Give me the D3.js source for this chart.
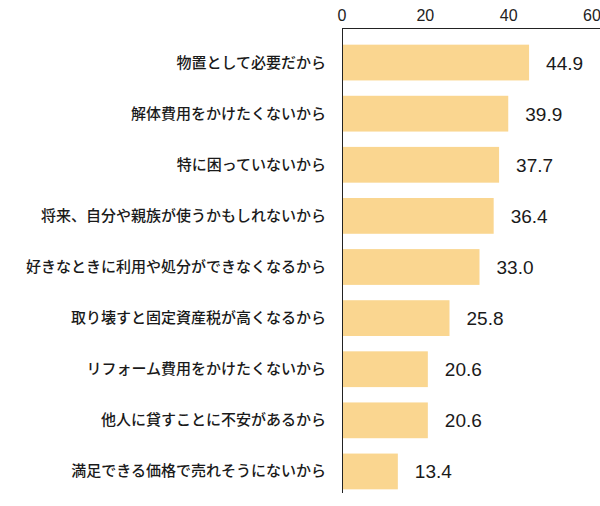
<!DOCTYPE html><html><head><meta charset="utf-8"><script src="https://cdn.jsdelivr.net/npm/d3@7"></script>
<style>body{margin:0;background:#fff}</style></head><body><svg id="c" width="600" height="506"></svg>
<script>
const categories=["物置として必要だから","解体費用をかけたくないから","特に困っていないから","将来、自分や親族が使うかもしれないから","好きなときに利用や処分ができなくなるから","取り壊すと固定資産税が高くなるから","リフォーム費用をかけたくないから","他人に貸すことに不安があるから","満足できる価格で売れそうにないから"];
const values=[44.9,39.9,37.7,36.4,33.0,25.8,20.6,20.6,13.4];
const ticks=[0,20,40,60];
const svg=d3.select("#c");
const x=d3.scaleLinear().domain([0,60]).range([342,592]);
const y=d3.scaleBand().domain(categories).range([37,497]).paddingInner(0.3).paddingOuter(0.15);
const font="'Noto Sans CJK JP','Noto Sans',sans-serif";
svg.append("line").attr("x1",342).attr("x2",600).attr("y1",28.5).attr("y2",28.5).attr("stroke","#222").attr("stroke-width",1);
svg.append("line").attr("x1",342.5).attr("x2",342.5).attr("y1",28).attr("y2",493).attr("stroke","#222").attr("stroke-width",1);
svg.selectAll(".t").data(ticks).join("text").attr("x",d=>x(d)).attr("y",21).attr("text-anchor","middle").attr("font-family","Liberation Sans,Arial").attr("font-size",16).attr("fill","#222").text(d=>d);
svg.selectAll(".b").data(values).join("rect").attr("x",x(0)+1).attr("y",(d,i)=>y(categories[i])).attr("width",d=>x(d)-x(0)-1).attr("height",y.bandwidth()).attr("fill","#FAD690");
svg.selectAll(".v").data(values).join("text").attr("x",d=>x(d)+17).attr("y",(d,i)=>y(categories[i])+y.bandwidth()/2+7).attr("font-family","Liberation Sans,Arial").attr("font-size",19).attr("font-weight",500).attr("fill","#1a1a1a").text(d=>d.toFixed(1));
svg.selectAll(".c").data(categories).join("text").attr("x",326).attr("y",c=>y(c)+y.bandwidth()/2+5).attr("text-anchor","end").attr("font-family",font).attr("font-size",15).attr("font-weight",500).attr("fill","#1a1a1a").text(c=>c);
</script></body></html>
